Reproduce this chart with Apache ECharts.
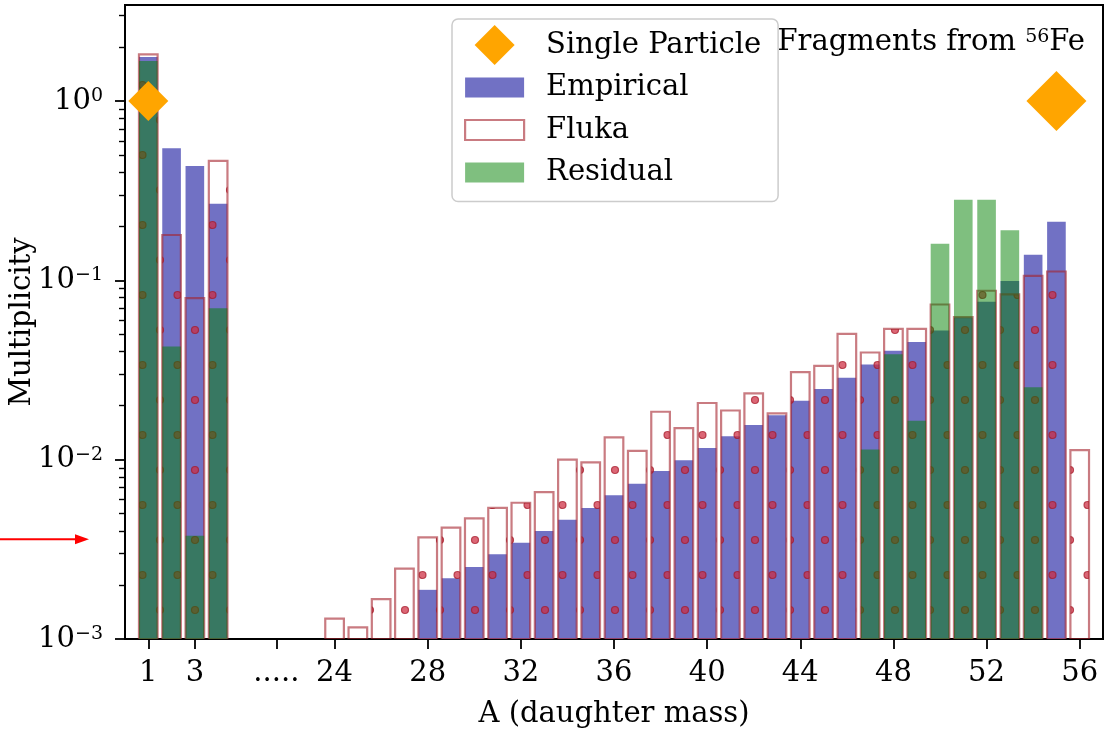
<!DOCTYPE html>
<html><head><meta charset="utf-8">
<script src="https://cdn.jsdelivr.net/npm/echarts@6/dist/echarts.min.js"></script>
<style>html,body{margin:0;padding:0;background:#fff}#c{width:1105px;height:729px}</style>
</head><body><div id="c"></div>
<script>
// ---------------- data ----------------
const massA = [1, 2, 3, 4,
  24, 25, 26, 27, 28, 29, 30, 31, 32, 33, 34, 35, 36, 37, 38, 39, 40,
  41, 42, 43, 44, 45, 46, 47, 48, 49, 50, 51, 52, 53, 54, 55, 56];
const empirical = [1.76, 0.545, 0.434, 0.267,
  null, null, null, null, 0.00188, 0.00218, 0.00252, 0.00297, 0.00344, 0.0040, 0.00463, 0.00538, 0.00633, 0.00735, 0.00865, 0.00992, 0.0116,
  0.0135, 0.0156, 0.0177, 0.0213, 0.0248, 0.0286, 0.0339, 0.0405, 0.0453, 0.0525, 0.062, 0.0759, 0.0992, 0.139, 0.212, null];
const fluka = [1.82, 0.179, 0.0795, 0.463,
  0.0013, 0.00116, 0.00167, 0.00247, 0.00369, 0.00418, 0.00471, 0.00538, 0.00575, 0.0066, 0.0100, 0.00967, 0.0133, 0.0112, 0.0185, 0.0150, 0.0207,
  0.0188, 0.0234, 0.0181, 0.0308, 0.0333, 0.0503, 0.0396, 0.0536, 0.0536, 0.0733, 0.0624, 0.0875, 0.0834, 0.106, 0.112, 0.0113];
const residual = [1.67, 0.0427, 0.00376, 0.0699,
  null, null, null, null, null, null, null, null, null, null, null, null, null, null, null, null, null,
  null, null, null, null, null, null, 0.0114, 0.0387, 0.0165, 0.160, 0.281, 0.281, 0.190, 0.0253, null, null];
const singleA = [1, 55];
const singleY = [1, 1];
const xTickA = [1, 3, '.....', 24, 28, 32, 36, 40, 44, 48, 52, 56];
const yTickValues = [0.001, 0.01, 0.1, 1];
const yMinorValues = [0.002,0.003,0.004,0.005,0.006,0.007,0.008,0.009,
  0.02,0.03,0.04,0.05,0.06,0.07,0.08,0.09,
  0.2,0.3,0.4,0.5,0.6,0.7,0.8,0.9, 2, 3];

// ---------------- layout / style ----------------
const FONT = 'DejaVu Serif';
const GAP_START = 4, GAP_END = 24, GAP_SLOTS = 4;
const Y_MIN = 0.001, Y_MAX = 3.43;
const BAR_W = 0.8;
const DIAMOND_SIZES = [40, 60];
const ARROW_VALUE = 0.0036;

function pos(a) { return a <= GAP_START ? a : a - (GAP_END - GAP_START) + GAP_SLOTS + 1; }
const gapPos = (pos(GAP_START) + pos(GAP_END)) / 2;
const xTickPos = xTickA.map(a => typeof a === 'number' ? pos(a) : gapPos);

function makeDotCanvas() {
  const c = document.createElement('canvas');
  c.width = 35; c.height = 70;
  const ctx = c.getContext('2d');
  const pts = [[2.5, 15], [20, 50]];
  for (const [x, y] of pts) {
    for (const dx of [-35, 0, 35]) for (const dy of [-70, 0, 70]) {
      ctx.beginPath();
      ctx.arc(x + dx, y + dy, 3.5, 0, Math.PI * 2);
      ctx.fillStyle = 'rgba(205,45,65,0.72)';
      ctx.fill();
      ctx.lineWidth = 1.2;
      ctx.strokeStyle = 'rgba(165,25,40,0.75)';
      ctx.stroke();
    }
  }
  return c;
}
const dotCanvas = makeDotCanvas();
const dotPattern = { image: dotCanvas, repeat: 'repeat' };
const legendDotPattern = { image: dotCanvas, repeat: 'repeat', x: -9, y: 21 };

function seriesData(vals) {
  const out = [];
  massA.forEach((a, i) => { if (vals[i] != null) out.push([pos(a), vals[i]]); });
  return out;
}
function barRenderer(style) {
  return function (params, api) {
    const x = api.value(0), y = api.value(1);
    if (!(y > 0)) return null;
    const tl = api.coord([x - BAR_W / 2, y]);
    const br = api.coord([x + BAR_W / 2, Y_MIN]);
    return { type: 'rect', shape: { x: tl[0], y: tl[1], width: br[0] - tl[0], height: br[1] - tl[1] }, style: style };
  };
}

const BLUE = '#7171c4';
const GREEN = 'rgba(0,128,0,0.5)';
const FLUKA_EDGE = 'rgba(165,35,45,0.6)';
const ORANGE = '#ffa500';

function supLabel(v) {
  const e = Math.round(Math.log10(v));
  return '{b|10}{s|' + (e < 0 ? '\u2212' + (-e) : e) + '}';
}
const labelRich = {
  b: { fontFamily: FONT, fontSize: 29, color: '#000' },
  s: { fontFamily: FONT, fontSize: 19, color: '#000', verticalAlign: 'top' }
};

const chart = echarts.init(document.getElementById('c'), null, { renderer: 'canvas' });
chart.setOption({
  animation: false,
  backgroundColor: '#fff',
  title: {
    text: 'Fragments from {s|56}Fe',
    right: 15, top: 23,
    textStyle: { fontFamily: FONT, fontSize: 29, fontWeight: 'normal', color: '#000',
      rich: { s: { fontFamily: FONT, fontSize: 19, color: '#000', verticalAlign: 'top' } } }
  },
  legend: {
    orient: 'vertical',
    left: 452, top: 19,
    padding: [6, 17, 9, 12],
    itemWidth: 59, itemHeight: 40, itemGap: 2.5,
    backgroundColor: 'rgba(255,255,255,0.8)',
    borderColor: '#cccccc', borderWidth: 1.5, borderRadius: 6,
    selectedMode: false,
    symbolKeepAspect: true,
    textStyle: { fontFamily: FONT, fontSize: 29, color: '#000', lineHeight: 40, padding: [0, 0, 0, 17] },
    data: [
      { name: 'Single Particle', icon: 'path://M20,0L40,20L20,40L0,20Z', itemStyle: { color: ORANGE } },
      { name: 'Empirical', icon: 'path://M0,0L59,0L59,20L0,20Z', itemStyle: { color: BLUE, borderWidth: 0 } },
      { name: 'Fluka', icon: 'path://M0,0L59,0L59,20L0,20Z', itemStyle: { color: legendDotPattern, borderColor: FLUKA_EDGE, borderWidth: 2.2 } },
      { name: 'Residual', icon: 'path://M0,0L59,0L59,20L0,20Z', itemStyle: { color: GREEN, borderWidth: 0 } }
    ]
  },
  grid: {
    left: 125, right: 2, top: 5, bottom: 90,
    show: true, borderColor: '#000', borderWidth: 2, backgroundColor: 'transparent',
    outerBoundsMode: 'none', containLabel: false
  },
  xAxis: {
    type: 'value', min: 0, max: 42,
    axisLine: { show: true, onZero: false, lineStyle: { color: '#000', width: 2 } },
    axisTick: { show: true, customValues: xTickPos, length: 10, lineStyle: { color: '#000', width: 1.8 } },
    axisLabel: {
      customValues: xTickPos, margin: 20, color: '#000', fontFamily: FONT, fontSize: 29,
      formatter: function (v) {
        const i = xTickPos.findIndex(p => Math.abs(p - v) < 1e-6);
        return i >= 0 ? String(xTickA[i]) : '';
      }
    },
    splitLine: { show: false },
    name: 'A (daughter mass)', nameLocation: 'middle', nameGap: 61,
    nameTextStyle: { fontFamily: FONT, fontSize: 29, color: '#000' }
  },
  yAxis: [{
    type: 'log', logBase: 10, min: Y_MIN, max: Y_MAX, position: 'left',
    axisLine: { show: true, lineStyle: { color: '#000', width: 2 } },
    axisTick: { show: true, customValues: yTickValues, length: 10, lineStyle: { color: '#000', width: 1.8 } },
    axisLabel: { customValues: yTickValues, margin: 22, formatter: supLabel, rich: labelRich },
    minorTick: { show: false },
    splitLine: { show: false },
    name: 'Multiplicity', nameLocation: 'middle', nameGap: 88, nameRotate: 90,
    nameMoveOverlap: false,
    nameTextStyle: { fontFamily: FONT, fontSize: 29, color: '#000' }
  }, {
    type: 'log', logBase: 10, min: Y_MIN, max: Y_MAX, position: 'left', offset: 0,
    axisLine: { show: false },
    axisTick: { show: true, customValues: yMinorValues, length: 6, lineStyle: { color: '#000', width: 1.4 } },
    axisLabel: { show: false },
    splitLine: { show: false }
  }],
  series: [
    {
      name: 'Empirical', type: 'custom', z: 2, clip: true,
      itemStyle: { color: BLUE },
      encode: { x: 0, y: 1 },
      renderItem: barRenderer({ fill: BLUE }),
      data: seriesData(empirical)
    },
    {
      name: 'Fluka', type: 'custom', z: 3, clip: true,
      itemStyle: { color: '#fff' },
      encode: { x: 0, y: 1 },
      renderItem: barRenderer({ fill: dotPattern, stroke: FLUKA_EDGE, lineWidth: 2.2 }),
      data: seriesData(fluka)
    },
    {
      name: 'Residual', type: 'custom', z: 4, clip: true,
      itemStyle: { color: GREEN },
      encode: { x: 0, y: 1 },
      renderItem: barRenderer({ fill: GREEN }),
      data: seriesData(residual)
    },
    {
      name: 'Single Particle', type: 'scatter', z: 5,
      symbol: 'diamond',
      itemStyle: { color: ORANGE, opacity: 1 },
      data: singleA.map((a, i) => ({ value: [pos(a), singleY[i]], symbolSize: DIAMOND_SIZES[i] }))
    }
  ]
});

const ay = chart.convertToPixel({ yAxisIndex: 0 }, ARROW_VALUE);
chart.setOption({
  graphic: [
    { type: 'line', shape: { x1: 0, y1: ay, x2: 80, y2: ay }, style: { stroke: '#ff0000', lineWidth: 2 }, z: 10 },
    { type: 'polygon', shape: { points: [[75, ay - 5], [89, ay], [75, ay + 5]] }, style: { fill: '#ff0000' }, z: 10 }
  ]
});
</script>
</body></html>
